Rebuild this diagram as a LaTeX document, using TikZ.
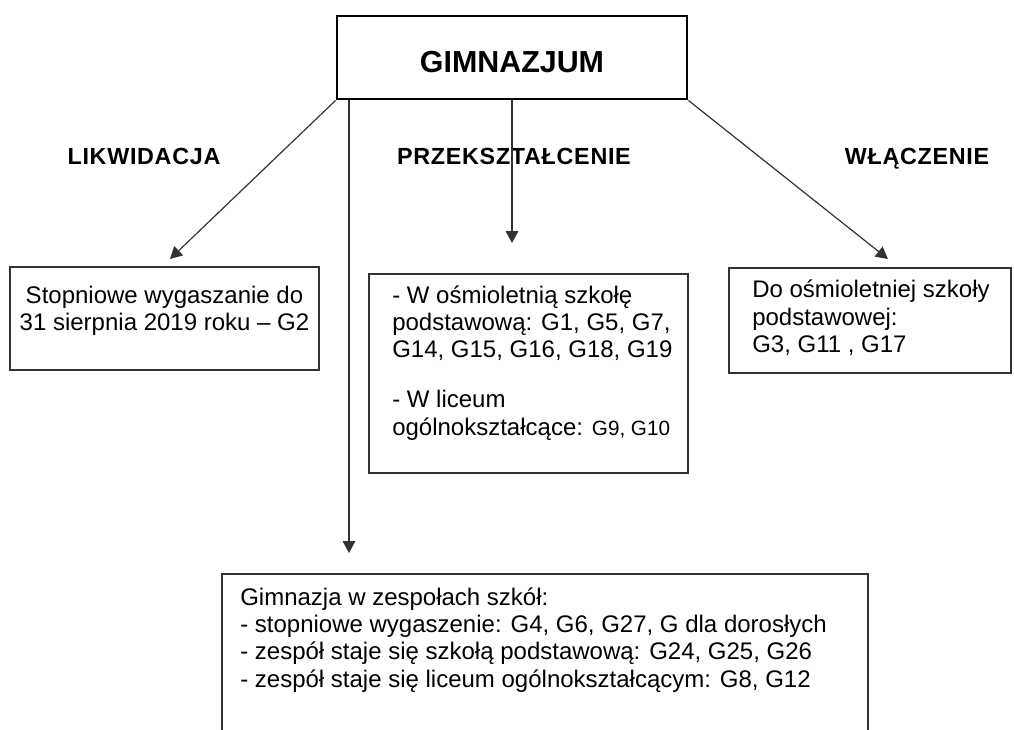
\documentclass[tikz,border=0pt]{standalone}
\usepackage{fontspec}
\setmainfont{Liberation Sans}
\newfontfamily\hdrfont[LetterSpace=3]{Liberation Sans}
\usetikzlibrary{arrows.meta, calc}

\tikzset{
  >={Triangle[length=9pt,width=9.5pt]},
  conn/.style={->, line width=0.9pt, draw=black!80},
  box/.style={draw=black!80, line width=0.9pt},
  txt/.style={inner sep=0pt, align=left, font=\fontsize{18}{20.6}\selectfont},
  hdr/.style={inner sep=0pt, font=\hdrfont\bfseries\fontsize{17.5}{20}\selectfont},
}

\begin{document}
\begin{tikzpicture}[x=0.75pt, y=-0.75pt]
	\useasboundingbox (0,0) rectangle (1014,729);

	% top box
	\node [draw, line width=2.2pt, minimum width=262.5pt, minimum height=62.25pt,
		text height=23pt, text depth=0pt,
		font=\bfseries\fontsize{22.8}{26}\selectfont] (gim) at (512,57.5) {GIMNAZJUM};

	% headings
	\node [hdr, anchor=base] (likw) at (144,164) {LIKWIDACJA};
	\node [hdr, anchor=base] (przek) at (514,164) {PRZEKSZTAŁCENIE};
	\node [hdr, anchor=base] (wlacz) at (917,164) {WŁĄCZENIE};

	% boxes
	\draw [box] (10,267) rectangle (319,370);
	\draw [box] (369,274) rectangle (688,473);
	\draw [box] (729,268) rectangle (1011,373);
	\draw [box] (222,740) -- (222,574) -- (868,574) -- (868,740);

	% texts (anchored at the baseline of their last line)
	\node [txt, align=center, anchor=base] (likwtxt) at (164.5,330.5)
		{Stopniowe wygaszanie do\\31 sierpnia 2019 roku – G2};
	\node [txt, anchor=base west] (przektxt) at (392,435.4)
		{- W ośmioletnią szkołę\\podstawową: G1, G5, G7,\\G14, G15, G16, G18, G19\\[16.9pt]- W liceum\\ogólnokształcące: {\fontsize{15.5}{18}\selectfont G9, G10}};
	\node [txt, anchor=base west] (wlacztxt) at (752,352.9)
		{Do ośmioletniej szkoły\\podstawowej:\\G3, G11 , G17};
	\node [txt, anchor=base west] (zesptxt) at (240,687.4)
		{Gimnazja w zespołach szkół:\\- stopniowe wygaszenie: G4, G6, G27, G dla dorosłych\\- zespół staje się szkołą podstawową: G24, G25, G26\\- zespół staje się liceum ogólnokształcącym: G8, G12};

	% arrows
	\coordinate (tipL) at (170,259);
	\coordinate (tipM) at (512,243);
	\coordinate (tipR) at (888,259);
	\coordinate (tipD) at (349,553);
	\draw [conn] (gim.south west) -- (tipL);
	\draw [conn] (gim.south) -- (tipM);
	\draw [conn] (gim.south east) -- (tipR);
	\draw [conn] (gim.south west -| tipD) -- (tipD);
\end{tikzpicture}
\end{document}
